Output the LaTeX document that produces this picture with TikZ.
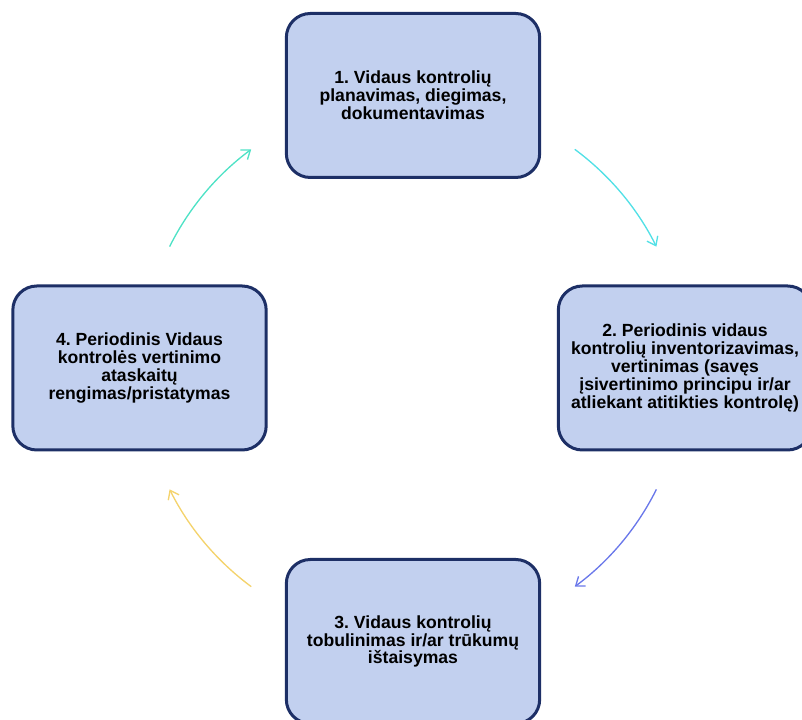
\documentclass[tikz,border=0pt]{standalone}
\usepackage{fontspec}
\setmainfont{Liberation Sans}
\usetikzlibrary{arrows.meta}

\definecolor{boxfill}{HTML}{C2D0EF}
\definecolor{boxline}{HTML}{1D2F66}
\definecolor{arrA}{HTML}{52E0E6}
\definecolor{arrB}{HTML}{6A78EA}
\definecolor{arrC}{HTML}{F4D36C}
\definecolor{arrD}{HTML}{4FE2C6}

\tikzset{
  stepbox/.style={draw=boxline, fill=boxfill, line width=2.25pt, rounded corners=18pt,
    minimum width=190pt, minimum height=123pt, inner sep=0pt, align=center,
    font=\fontsize{13.2}{13.4}\selectfont\bfseries\frenchspacing},
  cyclearrow/.style={line width=1pt, -{Straight Barb[length=6pt,width=9pt]}}
}

\begin{document}
\begin{tikzpicture}[x=0.75pt, y=0.75pt]
  \clip (0,0) rectangle (802,720);% page frame
  \coordinate (ctr) at (413,352);% centre of the cycle

  \node[stepbox] (plan) at (413,624.5) {1. Vidaus kontrolių\\planavimas, diegimas,\\dokumentavimas};
  \node[stepbox] (eval) at (685,352) {2. Periodinis vidaus\\kontrolių inventorizavimas,\\vertinimas (savęs\\įsivertinimo principu ir/ar\\atliekant atitikties kontrolę)};
  \node[stepbox] (fix) at (413,78.5) {3. Vidaus kontrolių\\tobulinimas ir/ar trūkumų\\ištaisymas};
  \node[stepbox] (report) at (139.5,352) {4. Periodinis Vidaus\\kontrolės vertinimo\\ataskaitų\\rengimas/pristatymas};

  % arcs between the boxes, clockwise
  \foreach \ang/\col [count=\i] in {53.5/arrA, -26.5/arrB, 233.5/arrC, 153.5/arrD} {
    \path (ctr) ++(\ang:272) coordinate (arrow\i);
    \draw[cyclearrow, \col] (arrow\i) arc[start angle=\ang, delta angle=-27, radius=272];
  }
\end{tikzpicture}
\end{document}
